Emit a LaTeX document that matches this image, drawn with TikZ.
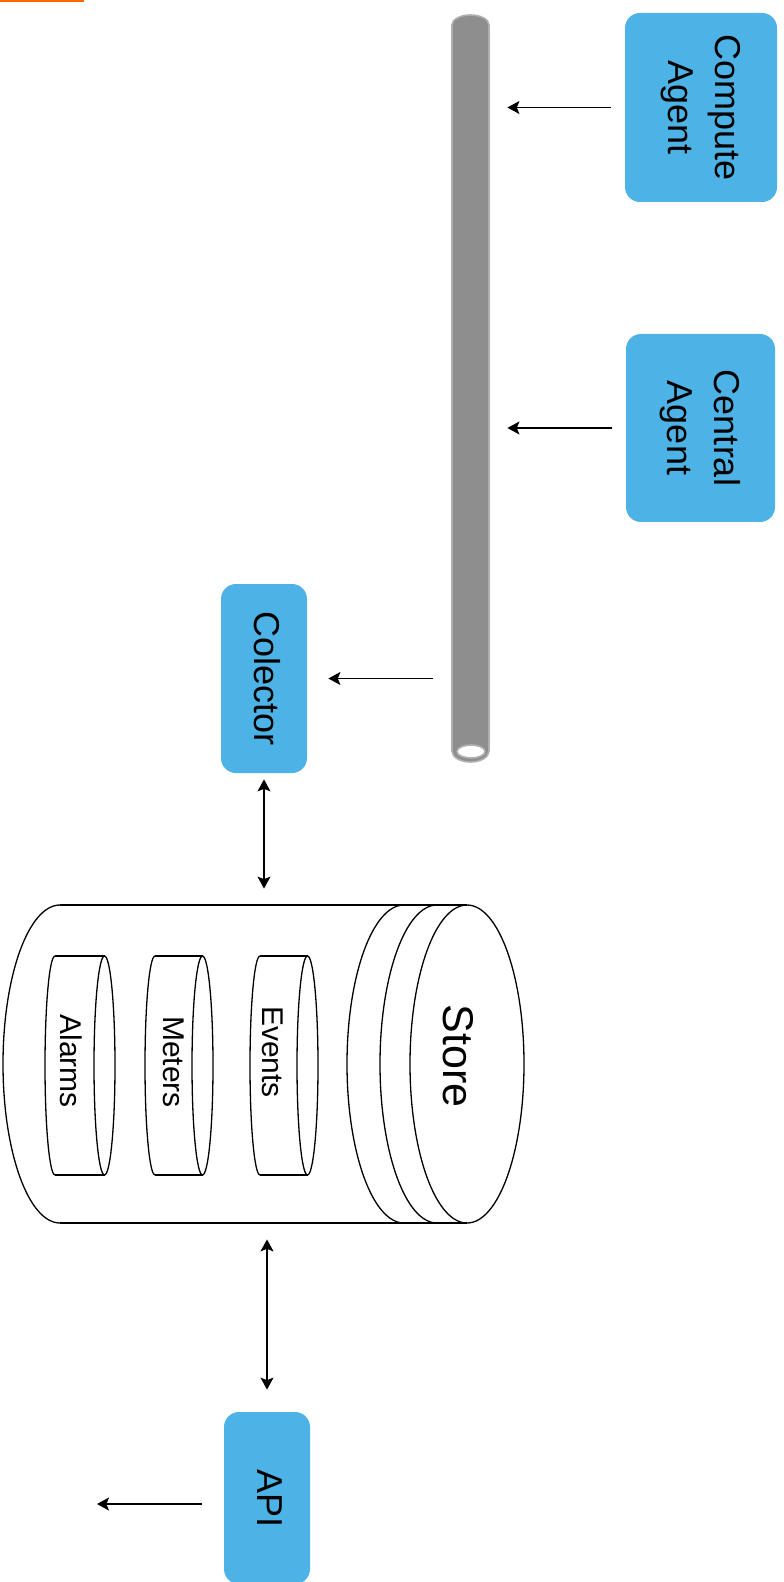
\documentclass[tikz,border=0pt]{standalone}
\usepackage{fontspec}
\setmainfont{Liberation Sans}
\usetikzlibrary{arrows.meta}
\definecolor{agentblue}{RGB}{77,179,230}
\definecolor{pipegray}{RGB}{142,142,142}
\definecolor{pipeedge}{RGB}{175,175,175}
\definecolor{topbar}{RGB}{255,102,0}
\newcommand{\vlabel}[1]{\rotatebox{-90}{\begin{tabular}{@{}c@{}}#1\end{tabular}}}

\begin{document}
\begin{tikzpicture}[x=0.5pt,y=0.5pt,
  agent/.style={fill=agentblue, rounded corners=7.5pt, inner sep=0pt, font=\fontsize{18}{23.5}\selectfont},
  flow/.style={-{Stealth[length=6pt,width=6.5pt,inset=1.3pt]}, line width=0.7pt},
  both/.style={{Stealth[length=6pt,width=6.5pt,inset=1.3pt]}-{Stealth[length=6pt,width=6.5pt,inset=1.3pt]}, line width=0.7pt},
  part/.style={font=\fontsize{15}{18}\selectfont},
  line/.style={line width=0.65pt}]
\path[use as bounding box, clip] (0,0) rectangle (783,-1582);
\fill[white] (0,0) rectangle (783,-1582);
\fill[topbar] (0,0) rectangle (84,-2.5);

% message bus
\node[minimum width=18.5pt, minimum height=373.5pt, inner sep=0pt] (bus) at (470.5,-388.5) {};
\filldraw[pipegray, draw=pipeedge, line width=0.8pt] (452,-751) -- (452,-25)
  arc[start angle=180, end angle=0, x radius=18.5, y radius=10] -- (489,-751)
  arc[start angle=0, end angle=-180, x radius=18.5, y radius=11] -- cycle;
\filldraw[white, draw=pipeedge, line width=0.8pt] (471,-751.5) ellipse[x radius=14, y radius=6.5];

% agents
\node[agent, minimum width=76pt, minimum height=94.5pt] (compute) at (701,-107.5) {\vlabel{Compute\\Agent}\hspace{2pt}};
\node[agent, minimum width=74.5pt, minimum height=94pt] (central) at (700.5,-428) {\vlabel{Central\\Agent}\hspace{2pt}};
\node[agent, minimum width=43pt, minimum height=94.5pt] (colector) at (264,-678.5) {\vlabel{Colector}};
\node[agent, minimum width=43pt, minimum height=86pt] (api) at (267,-1498) {\vlabel{API}};

% store
\node[minimum width=260.5pt, minimum height=159pt, inner sep=0pt] (store) at (263.5,-1064) {};
\draw[line] (60,-905) -- (467,-905) (60,-1223) -- (467,-1223);
\draw[line] (60,-905) arc[start angle=90, end angle=270, x radius=57, y radius=159];
\draw[line] (404,-905) arc[start angle=90, end angle=270, x radius=57, y radius=159];
\draw[line] (437,-905) arc[start angle=90, end angle=270, x radius=57, y radius=159];
\draw[line] (467,-1064) ellipse[x radius=57, y radius=159];
\node[font=\fontsize{21.5}{26}\selectfont] (storename) at (458,-1056) {\rotatebox{-90}{Store}};

\foreach \name/\lx/\rx/\tx/\ty in {Events/260/307.5/273/1052, Meters/155/202.5/174/1062, Alarms/55/104.5/71/1061} {
  \draw[line] (\lx,-956) -- (\rx,-956) (\lx,-1175) -- (\rx,-1175);
  \draw[line] (\lx,-956) arc[start angle=90, end angle=270, x radius=10, y radius=109.5];
  \draw[line] (\rx,-1065.5) ellipse[x radius=10.5, y radius=109.5];
  \node[part] (\name) at (\tx,-\ty) {\rotatebox{-90}{\name}};
}

% connectors
\draw[flow, shorten <=7pt, shorten >=9pt] (compute.west) -- (compute.west -| bus.east);
\draw[flow, shorten <=7pt, shorten >=9pt] (central.west) -- (central.west -| bus.east);
\draw[flow, shorten <=9.5pt, shorten >=10.5pt] (colector.east -| bus.west) -- (colector.east);
\draw[both, shorten <=3pt, shorten >=8pt] (colector.south) -- (colector.south |- store.north);
\draw[both, shorten <=8pt, shorten >=11pt] (api.north |- store.south) -- (api.north);
\coordinate (client) at (97,-1504);
\draw[flow, shorten <=11pt] (api.west |- client) -- (client);
\end{tikzpicture}
\end{document}
